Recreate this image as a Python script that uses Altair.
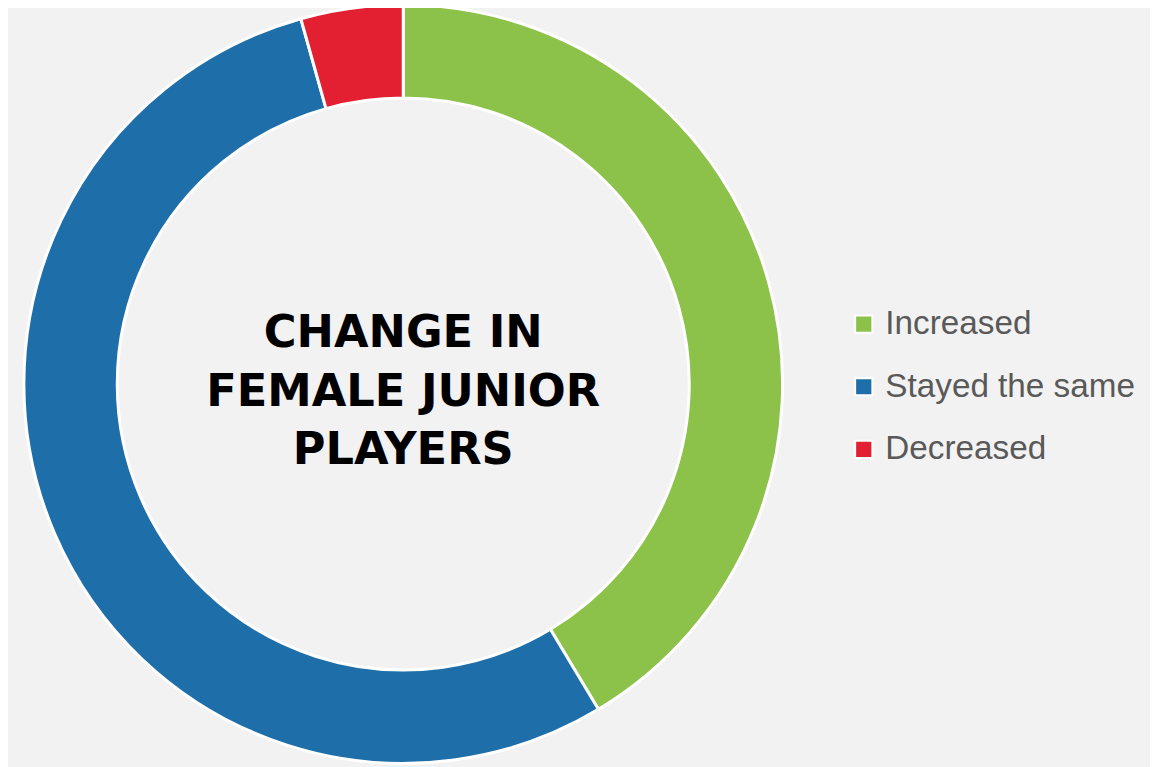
import altair as alt
import pandas as pd

categories = ["Increased", "Stayed the same", "Decreased"]
shares = [41.4, 54.25, 4.35]
colors = ["#8CC24A", "#1E6EAA", "#E31F32"]
title_lines = ["CHANGE IN", "FEMALE JUNIOR", "PLAYERS"]

df = pd.DataFrame({"category": categories, "share": shares, "order": list(range(len(categories)))})

arc = alt.Chart(df).mark_arc(
    innerRadius=288, outerRadius=382, stroke="white", strokeWidth=3
).encode(
    theta=alt.Theta("share:Q", stack=True),
    order=alt.Order("order:Q"),
    color=alt.Color(
        "category:N",
        scale=alt.Scale(domain=categories, range=colors),
        legend=alt.Legend(
            title=None,
            orient="none",
            legendX=845,
            legendY=299,
            symbolType="square",
            symbolSize=300,
            symbolStrokeColor="white",
            symbolStrokeWidth=2,
            symbolOpacity=1,
            labelFont="Liberation Sans",
            labelFontSize=33.5,
            labelColor="#595959",
            labelOffset=5,
            rowPadding=28,
            labelLimit=400,
        ),
    ),
    x=alt.value(398),
    y=alt.value(376),
)

text = alt.Chart(pd.DataFrame({"t": [0]})).mark_text(
    font="DejaVu Sans",
    fontWeight="bold",
    fontSize=45,
    lineHeight=59,
    align="center",
    baseline="alphabetic",
    color="#000000",
).encode(
    x=alt.value(398),
    y=alt.value(339),
    text=alt.value(title_lines),
)

chart = alt.layer(arc, text).properties(
    width=1150,
    height=759,
    padding=0,
    autosize=alt.AutoSizeParams(type="none"),
    background="#F2F2F2",
).configure_view(stroke=None)

chart.save("out.html", embed_options={"renderer": "svg", "actions": False})
